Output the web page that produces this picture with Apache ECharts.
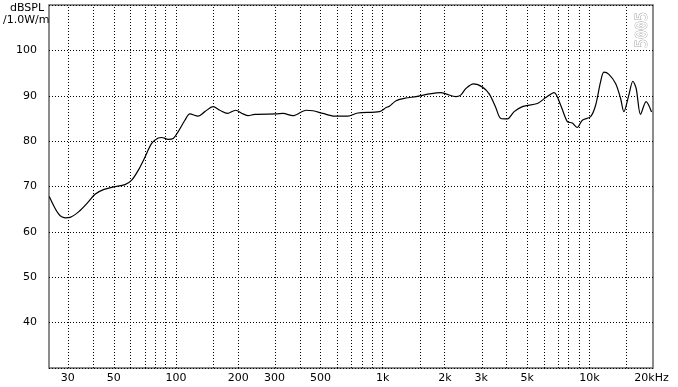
<!DOCTYPE html>
<html><head><meta charset="utf-8">
<script src="https://cdn.jsdelivr.net/npm/echarts@6/dist/echarts.min.js"></script>
<style>html,body{margin:0;padding:0;background:#fff}#c{width:678px;height:387px}</style>
</head><body><div id="c"></div>
<script>
// Frequency (Hz) and SPL (dB)
const freqs = [24.4,27.0,29.1,30.8,33.8,37.7,40.6,44.6,49.8,56.7,61.1,65.8,70.9,76.3,82.1,85.3,91.8,97.1,102.6,110.5,116.8,128.1,138,151.4,163.1,177.7,194.2,211.3,223.4,240.6,306,330,368,427,460,514,585,679,758,965,1040,1078,1162,1298,1451,1682,1916,2025,2263,2392,2529,2752,3042,3277,3514,3731,4017,4328,4746,5606,6153,6749,7268,7824,8271,8745,9244,10146,10725,11338,11763,12436,13399,14167,14690,15535,16240,16850,17690,18820,20000];
const spl = [67.8,64.0,63.1,63.2,64.4,66.6,68.3,69.3,69.9,70.4,71.4,73.6,76.5,79.5,80.7,80.8,80.4,80.6,82.1,84.6,86.0,85.5,86.5,87.6,86.8,86.1,86.8,86.0,85.6,85.9,86.0,86.1,85.6,86.8,86.7,86.1,85.5,85.5,86.2,86.5,87.4,87.7,88.9,89.5,89.8,90.4,90.7,90.4,89.8,90.2,91.6,92.6,91.9,90.4,87.6,85.0,84.9,86.5,87.6,88.3,89.6,90.7,87.9,84.3,84.0,83.0,84.6,85.4,87.9,93.1,95.2,94.7,92.7,89.4,86.5,90.2,93.2,91.6,85.9,88.7,86.4];
// Axis ticks
const xTickFreqs = [30,50,100,200,300,500,1000,2000,3000,5000,10000,20000];
const xTickLabels = ['30','50','100','200','300','500','1k','2k','3k','5k','10k','20kHz'];
const gridFreqs = [30,40,50,60,70,80,90,100,150,200,300,400,500,600,700,800,900,1000,1500,2000,3000,4000,5000,6000,7000,8000,9000,10000,15000];
const yTicks = [40,50,60,70,80,90,100];

const chart = echarts.init(document.getElementById('c'), null, {renderer:'canvas'});
const font = 'DejaVu Sans';
const dotted = {color:'#000', width:1, type:[1,2]};
chart.setOption({
  animation:false,
  backgroundColor:'#fff',
  grid:{left:49, right:25, top:5, bottom:19, show:true, borderColor:'#666', borderWidth:1.5, backgroundColor:'transparent'},
  xAxis:{type:'value', min:1.386, max:4.308,
    axisLine:{show:false}, axisTick:{show:false}, splitLine:{show:false},
    axisLabel:{customValues: xTickFreqs.map(f=>Math.log10(f)), margin:5,
      fontFamily:font, fontSize:11, color:'#000',
      formatter:(v)=>{const i = xTickFreqs.findIndex(f=>Math.abs(Math.log10(f)-v)<1e-6); return i>=0?xTickLabels[i]:'';}}
  },
  yAxis:{type:'value', min:30, max:110, interval:10,
    axisLine:{show:false}, axisTick:{show:false},
    splitLine:{show:true, lineStyle:dotted},
    axisLabel:{margin:12, fontFamily:font, fontSize:11, color:'#000',
      formatter:(v)=> yTicks.includes(v)? String(v) : ''}
  },
  graphic:[
    {type:'text', left:10, top:3, style:{text:'dBSPL', font:'11px DejaVu Sans', fill:'#000'}},
    {type:'text', left:3, top:15, style:{text:'/1.0W/m', font:'11px DejaVu Sans', fill:'#000'}},
    {type:'text', x:636, y:48, rotation:Math.PI/2, style:{text:'5005', font:'15px DejaVu Sans Mono', fill:'#fff', stroke:'#999', lineWidth:0.8}}
  ],
  series:[
    {type:'line', data:[], silent:true,
      markLine:{silent:true, symbol:'none', label:{show:false},
        lineStyle:dotted,
        data: gridFreqs.map(f=>({xAxis:Math.log10(f)}))}},
    {type:'line', data: freqs.map((f,i)=>[Math.log10(f), spl[i]]),
      smooth:0.3, showSymbol:false, lineStyle:{color:'#000', width:1.2}, z:5}
  ]
});
</script></body></html>
